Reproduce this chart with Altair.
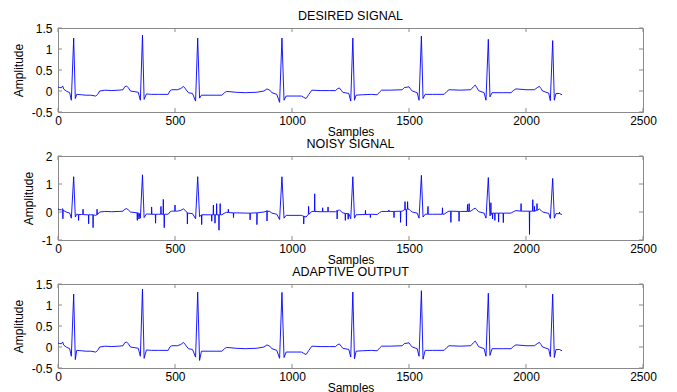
import altair as alt
import pandas as pd

# ---- values ----
samples = [0, 8, 15, 20, 24, 35, 50, 57, 67, 74, 80, 100, 120, 140, 161, 170, 178, 200, 230, 260,
           278, 285, 293, 300, 310, 343, 352, 361, 368, 378, 400, 430, 471, 478, 486, 510, 525, 536,
           545, 557, 575, 588, 597, 605, 613, 650, 700, 712, 721, 760, 800, 850, 880, 893, 905, 914,
           935, 947, 957, 966, 975, 1000, 1040, 1050, 1060, 1072, 1085, 1120, 1160, 1186, 1196, 1203,
           1210, 1217, 1243, 1251, 1260, 1267, 1274, 1300, 1340, 1364, 1375, 1383, 1420, 1471, 1480,
           1500, 1506, 1514, 1535, 1543, 1553, 1560, 1569, 1600, 1650, 1662, 1671, 1720, 1764, 1775,
           1783, 1790, 1797, 1821, 1829, 1839, 1846, 1855, 1900, 1936, 1948, 1957, 2000, 2036, 2048,
           2057, 2064, 2071, 2097, 2104, 2114, 2121, 2128, 2143, 2154]
desired = [0.10, 0.08, 0.08, 0.12, 0.05, 0.00, -0.04, -0.22, 1.26, -0.18, -0.08, -0.09, -0.10, -0.10,
           -0.12, -0.08, 0.00, 0.02, 0.01, 0.02, 0.03, 0.10, 0.12, 0.08, 0.00, -0.03, -0.22, 1.33, -0.20,
           -0.07, -0.08, -0.08, -0.08, 0.00, 0.03, 0.03, 0.06, 0.11, 0.05, -0.04, -0.06, -0.24, 1.26,
           -0.17, -0.10, -0.10, -0.10, -0.04, -0.01, -0.03, -0.04, -0.03, 0.00, 0.05, 0.02, -0.04, -0.08,
           -0.27, 1.26, -0.22, -0.12, -0.12, -0.12, -0.15, -0.18, -0.08, 0.02, 0.01, 0.01, 0.01, 0.06,
           0.07, 0.02, -0.03, -0.06, -0.24, 1.26, -0.22, -0.10, -0.09, -0.08, -0.09, -0.02, 0.02, 0.02,
           0.03, 0.08, 0.10, 0.05, 0.00, -0.04, -0.22, 1.31, -0.18, -0.08, -0.08, -0.08, -0.01, 0.03,
           0.02, 0.03, 0.10, 0.14, 0.08, 0.01, -0.04, -0.22, 1.23, -0.14, -0.04, -0.04, -0.04, 0.02, 0.05,
           0.03, 0.03, 0.08, 0.11, 0.06, 0.00, -0.05, -0.23, 1.20, -0.22, -0.06, -0.06, -0.09]

# adaptive output differs from the desired signal at the R peaks and S troughs
adaptive_at = [67, 74, 361, 368, 597, 605, 957, 966, 1260, 1267, 1553, 1560, 1839, 1846, 2114, 2121]
adaptive_val = [1.26, -0.30, 1.38, -0.27, 1.31, -0.32, 1.30, -0.25, 1.31, -0.28, 1.34, -0.29,
                1.28, -0.20, 1.26, -0.25]

# impulsive noise in the noisy signal: position, local baseline, spike value
spike_at = [21, 88, 107, 131, 150, 167, 339, 346, 400, 417, 440, 450, 454, 500, 553, 614, 657, 664,
            671, 678, 688, 693, 728, 750, 821, 850, 893, 1050, 1071, 1097, 1131, 1154, 1193, 1228,
            1240, 1314, 1335, 1414, 1436, 1464, 1483, 1489, 1494, 1581, 1643, 1679, 1714, 1750, 1757,
            1850, 1857, 1867, 1883, 1903, 1979, 2015, 2029, 2036, 2047, 2143]
spike_base = [0.08, -0.09, -0.09, -0.10, -0.10, -0.10, -0.03, -0.05, -0.08, -0.08, -0.08, -0.08,
              -0.08, 0.03, -0.03, -0.10, -0.10, -0.10, -0.10, -0.10, -0.10, -0.10, -0.02, -0.03, -0.04,
              -0.03, 0.03, -0.15, -0.08, 0.02, 0.01, 0.01, 0.05, -0.05, -0.06, -0.09, -0.08, 0.02,
              0.02, 0.03, 0.08, 0.09, 0.10, -0.08, -0.08, 0.03, 0.02, 0.02, 0.02, -0.09, -0.04, -0.04,
              -0.04, -0.04, 0.03, 0.03, 0.03, 0.03, 0.06, -0.06]
spike_peak = [-0.24, -0.30, 0.10, -0.42, -0.56, 0.10, -0.30, -0.25, 0.18, -0.40, 0.20, 0.45, -0.56,
              0.25, -0.43, -0.45, -0.33, 0.25, -0.40, 0.30, -0.65, 0.30, 0.10, -0.20, -0.28, -0.45,
              -0.32, -0.43, 0.20, 0.65, 0.15, 0.18, -0.25, -0.30, -0.26, 0.06, -0.20, 0.07, -0.20,
              -0.37, 0.37, -0.50, 0.37, 0.20, 0.15, -0.37, -0.33, 0.27, 0.30, 0.33, -0.25, -0.30,
              -0.36, -0.38, 0.30, -0.80, 0.44, 0.20, 0.30, 0.00]

x_ticks = [0, 500, 1000, 1500, 2000, 2500]
y_ticks_a = [-0.5, 0, 0.5, 1, 1.5]
y_ticks_b = [-1, 0, 1, 2]

# ---- tables ----
desired_df = pd.DataFrame({"x": samples, "y": desired})

adapt_map = dict(zip(adaptive_at, adaptive_val))
adaptive_df = pd.DataFrame({"x": samples, "y": [adapt_map.get(s, v) for s, v in zip(samples, desired)]})

noisy_rows = list(zip(samples, desired))
for s, b, p in zip(spike_at, spike_base, spike_peak):
    noisy_rows += [(s - 1, b), (s, p), (s + 1, b)]
noisy_rows.sort(key=lambda r: r[0])
noisy_df = pd.DataFrame(noisy_rows, columns=["x", "y"])
noisy_df["i"] = range(len(noisy_df))
desired_df["i"] = range(len(desired_df))
adaptive_df["i"] = range(len(adaptive_df))

W, H = 585, 84
FONT = "Liberation Sans"
GRAY = "#8a8a8a"
TICK = 4


def panel(title, df, dom, yt):
    x = alt.X("x:Q", scale=alt.Scale(domain=[0, 2500], nice=False, zero=False),
              axis=alt.Axis(values=x_ticks, title="Samples", format="d", tickSize=0, domain=False,
                            grid=False, labelPadding=3, titlePadding=0, labelFont=FONT,
                            labelFontSize=12, labelColor="#000", titleFont=FONT, titleFontSize=12,
                            titleFontWeight="normal", titleColor="#000", labelFlush=False))
    y = alt.Y("y:Q", scale=alt.Scale(domain=dom, nice=False, zero=False),
              axis=alt.Axis(values=yt, title="Amplitude", tickSize=0, domain=False, grid=False,
                            labelExpr="toString(datum.value)",
                            labelPadding=6, titlePadding=6, labelFont=FONT, labelFontSize=12,
                            labelColor="#000", titleFont=FONT, titleFontSize=12,
                            titleFontWeight="normal", titleColor="#000", labelFlush=False))
    line = alt.Chart(df).mark_line(color="#0000ff", strokeWidth=0.9, clip=True).encode(
        x=x, y=y, order="i:Q")
    xt = alt.Chart(pd.DataFrame({"x": x_ticks}))
    ytc = alt.Chart(pd.DataFrame({"y": yt}))
    tb = xt.mark_rule(color=GRAY).encode(x=x, y=alt.value(H), y2=alt.value(H - TICK))
    tt = xt.mark_rule(color=GRAY).encode(x=x, y=alt.value(0), y2=alt.value(TICK))
    tl = ytc.mark_rule(color=GRAY).encode(y=y, x=alt.value(0), x2=alt.value(TICK))
    tr = ytc.mark_rule(color=GRAY).encode(y=y, x=alt.value(W), x2=alt.value(W - TICK))
    return alt.layer(line, tb, tt, tl, tr).properties(
        width=W, height=H,
        title=alt.TitleParams(title, font=FONT, fontSize=12.5, fontWeight="normal", color="#000",
                              anchor="middle", offset=0))


chart = alt.vconcat(
    panel("DESIRED SIGNAL", desired_df, [-0.5, 1.5], y_ticks_a),
    panel("NOISY SIGNAL", noisy_df, [-1, 2], y_ticks_b),
    panel("ADAPTIVE OUTPUT", adaptive_df, [-0.5, 1.5], y_ticks_a),
    spacing=-1,
).properties(
    padding={"left": 3, "top": 1, "right": 5, "bottom": 0},
    background="white",
).configure_view(stroke=GRAY, strokeWidth=1)

chart.save("out.html", embed_options={"renderer": "svg", "actions": False})
